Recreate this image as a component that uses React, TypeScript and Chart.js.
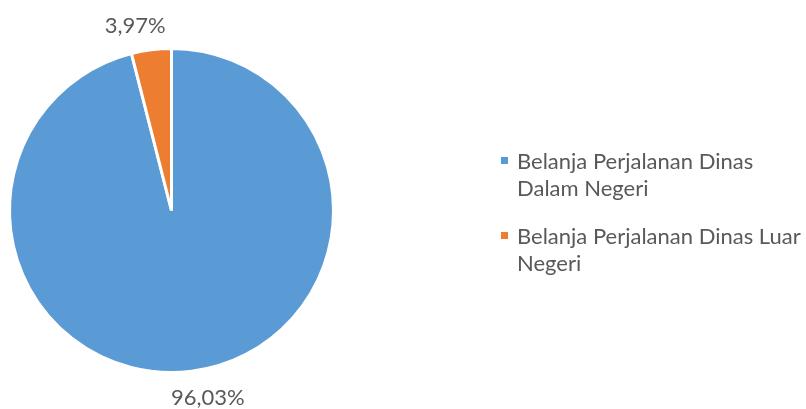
import React, { useEffect, useRef } from "react";
import { Chart, registerables } from "chart.js";

Chart.register(...registerables);

const categories: string[][] = [
  ["Belanja Perjalanan Dinas", "Dalam Negeri"],
  ["Belanja Perjalanan Dinas Luar", "Negeri"],
];
const values: number[] = [96.03, 3.97];
const valueLabels: string[] = ["96,03%", "3,97%"];
const colors: string[] = ["#5B9BD5", "#ED7D31"];

const FONT = "Lato, 'DejaVu Sans', sans-serif";
const TEXT = "#595959";
const FONT_SIZE = 22;

const labelPlugin = {
  id: "outsideLabels",
  afterDatasetsDraw(chart: any) {
    const meta = chart.getDatasetMeta(0);
    const ctx = chart.ctx;
    ctx.save();
    ctx.font = `${FONT_SIZE}px ${FONT}`;
    ctx.fillStyle = TEXT;
    ctx.textAlign = "center";
    ctx.textBaseline = "middle";
    meta.data.forEach((arc: any, i: number) => {
      const { x, y, startAngle, endAngle, outerRadius } = arc.getProps(
        ["x", "y", "startAngle", "endAngle", "outerRadius"],
        true
      );
      const mid = (startAngle + endAngle) / 2;
      const r = outerRadius + 25.5;
      const cx = Math.cos(mid);
      const sy = Math.sin(mid);
      const lx = x + cx * r + Math.sign(cx) * 13;
      const ly = y + sy * r + 1.5;
      ctx.fillText(valueLabels[i], lx, ly);
    });
    ctx.restore();
  },
};

export default function App() {
  const ref = useRef<HTMLCanvasElement | null>(null);

  useEffect(() => {
    document.body.style.margin = "0";
    if (!ref.current) return;
    const chart = new Chart(ref.current, {
      type: "pie",
      data: {
        labels: categories.map((c) => c.join(" ")),
        datasets: [
          {
            data: values,
            backgroundColor: colors,
            borderColor: "#ffffff",
            borderWidth: 3,
          },
        ],
      },
      options: {
        animation: false,
        responsive: false,
        maintainAspectRatio: false,
        layout: { padding: { left: 8, top: 47, right: 471, bottom: 35 } },
        plugins: {
          legend: { display: false },
          tooltip: { enabled: false },
        },
      },
      plugins: [labelPlugin],
    });
    return () => chart.destroy();
  }, []);

  const itemTops = [147, 222];

  return (
    <div style={{ position: "relative", width: 806, height: 409, background: "#fff" }}>
      <canvas ref={ref} width={806} height={409} style={{ position: "absolute", left: 0, top: 0 }} />
      {categories.map((lines, i) => (
        <div
          key={i}
          style={{
            position: "absolute",
            left: 501,
            top: itemTops[i],
            fontFamily: FONT,
            fontSize: FONT_SIZE,
            lineHeight: "27px",
            color: TEXT,
          }}
        >
          <span
            style={{
              position: "absolute",
              left: 0,
              top: 10,
              width: 7,
              height: 7,
              background: colors[i],
            }}
          />
          <div style={{ marginLeft: 16, whiteSpace: "nowrap" }}>
            {lines.map((l, j) => (
              <div key={j}>{l}</div>
            ))}
          </div>
        </div>
      ))}
    </div>
  );
}
